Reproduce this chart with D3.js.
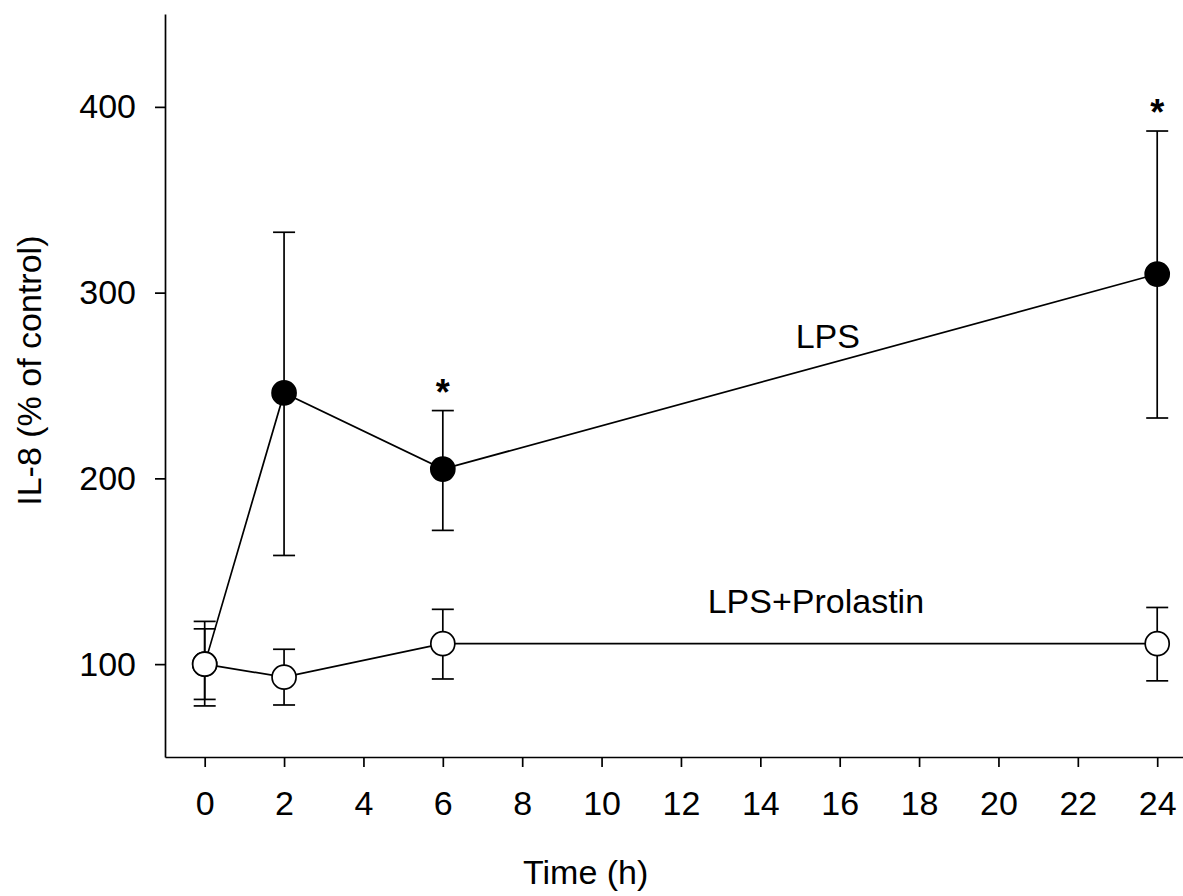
<!DOCTYPE html>
<html>
<head>
<meta charset="utf-8">
<script src="https://cdn.jsdelivr.net/npm/d3@7"></script>
<style>
  body { margin: 0; background: #fff; }
  svg text { font-family: "Liberation Sans", Arial, sans-serif; fill: #000; }
</style>
</head>
<body>
<div id="chart"></div>
<script>
// data
const times = [0, 2, 6, 24];
const lpsMean = [100, 246, 205, 310];
const lpsUpper = [123, 332.5, 236.5, 387];
const lpsLower = [77.5, 158.5, 172, 232.5];
const proMean = [100, 93, 111, 111];
const proUpper = [119, 108, 129.5, 130.5];
const proLower = [81, 78, 92, 91];
const starTimes = [6, 24];
const xTicks = [0, 2, 4, 6, 8, 10, 12, 14, 16, 18, 20, 22, 24];
const yTicks = [100, 200, 300, 400];

const width = 1183;
const height = 896;
const margin = { left: 165, right: 0, top: 14, bottom: 139 };
const fontSize = '34px';

const svg = d3.select('#chart').append('svg')
    .attr('width', width)
    .attr('height', height);

const x = d3.scaleLinear()
    .domain([-1, 24.65])
    .range([margin.left, width - margin.right]);

const y = d3.scaleLinear()
    .domain([50, 450])
    .range([height - margin.bottom, margin.top]);

// axes
const xAxis = svg.append('g')
    .attr('transform', 'translate(0,' + (height - margin.bottom) + ')')
    .call(d3.axisBottom(x).tickValues(xTicks).tickSize(10).tickPadding(24).tickSizeOuter(0));

const yAxis = svg.append('g')
    .attr('transform', 'translate(' + margin.left + ',0)')
    .call(d3.axisLeft(y).tickValues(yTicks).tickSize(10).tickPadding(19).tickSizeOuter(0));

[xAxis, yAxis].forEach(function (g) {
    g.select('.domain').attr('stroke', '#000').attr('stroke-width', 1.7);
    g.selectAll('.tick line').attr('stroke', '#000').attr('stroke-width', 1.7);
    g.selectAll('.tick text')
        .style('font-family', '"Liberation Sans", Arial, sans-serif')
        .style('font-size', fontSize)
        .attr('fill', '#000');
});

svg.append('text')
    .attr('x', x(9.6))
    .attr('y', 884)
    .style('text-anchor', 'middle')
    .style('font-size', fontSize)
    .text('Time (h)');

svg.append('text')
    .attr('transform', 'translate(41,' + y(258) + ') rotate(-90)')
    .style('text-anchor', 'middle')
    .style('font-size', fontSize)
    .text('IL-8 (% of control)');

const series = [
    { name: 'lps', mean: lpsMean, up: lpsUpper, lo: lpsLower, fill: '#000' },
    { name: 'pro', mean: proMean, up: proUpper, lo: proLower, fill: '#fff' }
];

const line = d3.line()
    .x(d => x(d.t))
    .y(d => y(d.v));

const capHalf = 11;

series.forEach(function (s) {
    const pts = times.map((t, i) => ({ t: t, v: s.mean[i], up: s.up[i], lo: s.lo[i] }));
    const g = svg.append('g').attr('class', s.name);

    // error bars
    const eb = g.selectAll('.err').data(pts).enter().append('g')
        .attr('stroke', '#000').attr('stroke-width', 1.7);
    eb.append('line')
        .attr('x1', d => x(d.t)).attr('x2', d => x(d.t))
        .attr('y1', d => y(d.up)).attr('y2', d => y(d.lo));
    eb.append('line')
        .attr('x1', d => x(d.t) - capHalf).attr('x2', d => x(d.t) + capHalf)
        .attr('y1', d => y(d.up)).attr('y2', d => y(d.up));
    eb.append('line')
        .attr('x1', d => x(d.t) - capHalf).attr('x2', d => x(d.t) + capHalf)
        .attr('y1', d => y(d.lo)).attr('y2', d => y(d.lo));

    g.append('path')
        .datum(pts)
        .attr('d', line)
        .attr('fill', 'none')
        .attr('stroke', '#000')
        .attr('stroke-width', 1.7);

    g.selectAll('circle').data(pts).enter().append('circle')
        .attr('cx', d => x(d.t))
        .attr('cy', d => y(d.v))
        .attr('r', 12)
        .attr('fill', s.fill)
        .attr('stroke', '#000')
        .attr('stroke-width', 1.7);
});

// significance stars
svg.selectAll('.star').data(starTimes).enter().append('text')
    .attr('class', 'star')
    .attr('x', d => x(d))
    .attr('y', d => y(lpsUpper[times.indexOf(d)]) - 6)
    .style('text-anchor', 'middle')
    .style('font-size', '36px')
    .style('font-weight', 'bold')
    .text('*');

svg.append('text')
    .attr('x', x(15.7))
    .attr('y', 348)
    .style('text-anchor', 'middle')
    .style('font-size', fontSize)
    .text('LPS');

svg.append('text')
    .attr('x', x(15.4))
    .attr('y', 613)
    .style('text-anchor', 'middle')
    .style('font-size', fontSize)
    .text('LPS+Prolastin');
</script>
</body>
</html>
